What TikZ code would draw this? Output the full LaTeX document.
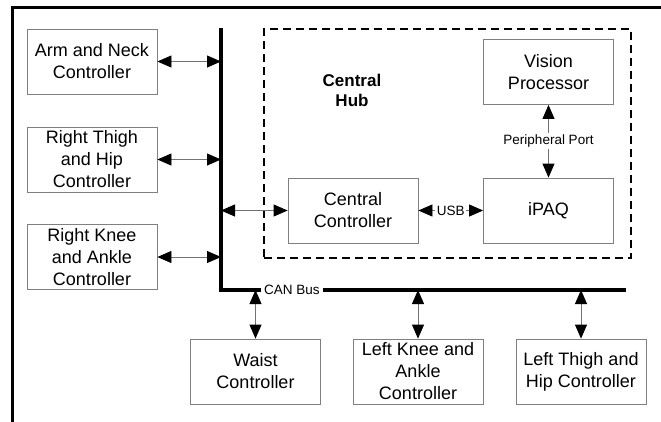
\documentclass[tikz,border=0pt]{standalone}
\usepackage{fontspec}
\setmainfont{Liberation Sans}
\usepackage{tikz}
\usetikzlibrary{arrows.meta}
\newcommand{\boxfont}{\fontsize{18bp}{22bp}\selectfont}
\newcommand{\tagfont}{\fontsize{13.5bp}{16bp}\selectfont}

\begin{document}
\begin{tikzpicture}[
    x=1bp, y=-1bp,
    block/.style={rectangle, draw=black!50, line width=0.8bp,
                minimum width=130bp, minimum height=65bp,
                inner sep=0pt, align=center, font=\boxfont},
    link/.style={draw=black!55, line width=0.8bp,
                {Triangle[length=14bp,width=12bp,color=black]}-{Triangle[length=14bp,width=12bp,color=black]}},
    tag/.style={fill=white, inner sep=1.5bp, font=\tagfont},
    bus/.style={line width=3.5bp, line join=miter}
]
\useasboundingbox (0,0) rectangle (661,421);

% outer frame
\draw[line width=3bp] (12,430) -- (12,7) -- (670,7);

% central hub
\node[draw, dashed, line width=1.1bp, dash pattern=on 8bp off 5bp,
      minimum width=367bp, minimum height=229bp] (hub) at (447.5,143.5) {};
\node[font=\fontsize{17bp}{20bp}\selectfont\bfseries, align=center] (hubname) at (352,90) {Central\\Hub};

\node[block] (arm) at (92,61.5) {Arm and Neck\\Controller};
\node[block] (rthigh) at (92,159.5) {Right Thigh\\and Hip\\Controller};
\node[block] (rknee) at (92,257) {Right Knee\\and Ankle\\Controller};

\node[block] (central) at (353,210.5) {Central\\Controller};
\node[block] (ipaq) at (548.5,210.5) {iPAQ};
\node[block] (vision) at (548.5,72) {Vision\\Processor};

\node[block] (waist) at (255.5,371.5) {Waist\\Controller};
\node[block] (lknee) at (418,371.5) {Left Knee and\\Ankle\\Controller};
\node[block] (lthigh) at (581,371.5) {Left Thigh and\\Hip Controller};

% CAN bus
\coordinate (bustop) at (221,28);
\coordinate (buscorner) at (221,290);
\coordinate (busend) at (626,290);
\draw[bus] (bustop) -- (buscorner) -- (busend);
\node[tag, inner sep=3bp] (canbus) at (292,290) {CAN Bus};

\draw[link] (arm.east) -- (arm.east -| bustop);
\draw[link] (rthigh.east) -- (rthigh.east -| bustop);
\draw[link] (rknee.east) -- (rknee.east -| bustop);
\draw[link] (central.west -| bustop) -- (central.west);
\draw[link] (waist.north |- buscorner) -- (waist.north);
\draw[link] (lknee.north |- buscorner) -- (lknee.north);
\draw[link] (lthigh.north |- buscorner) -- (lthigh.north);

\draw[link] (central.east) -- node[tag] (usb) {USB} (ipaq.west);
\draw[link] (ipaq.north) -- node[tag] (port) {Peripheral Port} (vision.south);
\end{tikzpicture}
\end{document}
